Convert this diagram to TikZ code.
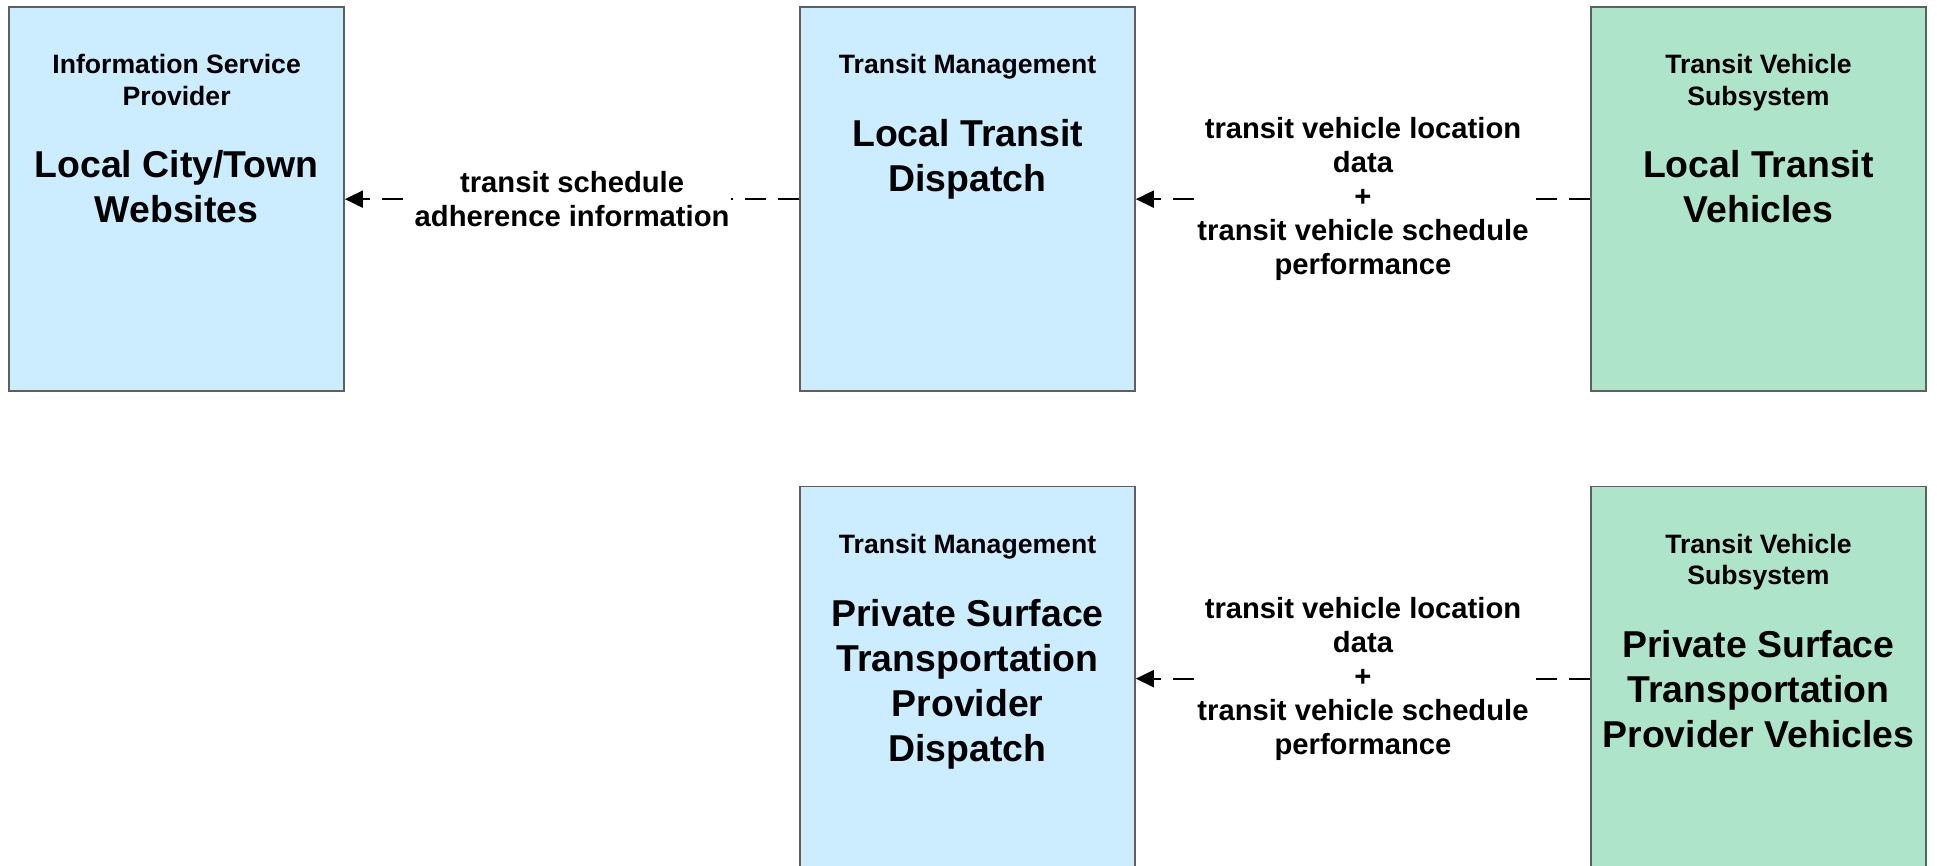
\documentclass[tikz,border=0pt]{standalone}
\usepackage{fontspec}
\setmainfont{Liberation Sans}
\usetikzlibrary{arrows.meta}
\definecolor{couleurbackcentre}{HTML}{CCECFF}
\definecolor{couleurbackvehi}{HTML}{AEE5CA}
\definecolor{couleurbord}{HTML}{5F5F5F}
\definecolor{couleurtext}{HTML}{000000}
\newcommand{\contenu}[2]{\begin{minipage}[t][192pt][t]{167.5pt}\centering
	\fontsize{13.3}{15.65}\selectfont\rule{0pt}{33.35pt}#1\par
	\vspace{13.85pt}
	\fontsize{18.7}{22.5}\selectfont #2\par
	\end{minipage}}
\newcommand{\lienflux}[4]{\draw[flux] (#1.west) -- node[etiquette] (#3) {#4} (#2.east);}
\tikzset{
		basic/.style={draw=couleurbord, line width=0.75pt, inner sep=0pt, text=couleurtext, font=\bfseries},
		centre/.style={basic, fill=couleurbackcentre},
		vehicule/.style={basic, fill=couleurbackvehi},
		flux/.style={-{Triangle[length=9pt,width=8.5pt]}, line width=1pt, dash pattern=on 10.5pt off 6pt},
		etiquette/.style={fill=white, inner xsep=1pt, inner ysep=0pt, align=center, text=couleurtext, font=\bfseries\fontsize{14.6}{17}\selectfont}
	}
\begin{document}
\begin{tikzpicture}
		\useasboundingbox (0,0) rectangle (968.5pt,-433pt);
		% systemes
		\matrix[anchor=north west, inner sep=0pt, row sep=47pt, column sep=227.2pt] at (4pt,-3pt) {
			% 1re ligne
			\node[centre](citywebs){\contenu{Information Service\\Provider}{Local City/Town\\Websites}}; & \node[centre](locldisp){\contenu{Transit Management}{Local Transit\\Dispatch}}; & \node[vehicule](loclvehi){\contenu{Transit Vehicle\\Subsystem}{Local Transit\\Vehicles}}; \\
			% 2e ligne
			& \node[centre](privdisp){\contenu{Transit Management}{Private Surface\\Transportation\\Provider\\Dispatch}}; & \node[vehicule](privvehi){\contenu{Transit Vehicle\\Subsystem}{Private Surface\\Transportation\\Provider Vehicles}}; \\
		};
		
		% Liens
		\lienflux{locldisp}{citywebs}{horaadhe}{transit schedule\\adherence information}
		\lienflux{loclvehi}{locldisp}{posivehl}{transit vehicle location\\data\\+\\transit vehicle schedule\\performance}
		\lienflux{privvehi}{privdisp}{posivehp}{transit vehicle location\\data\\+\\transit vehicle schedule\\performance}
	\end{tikzpicture}
\end{document}
